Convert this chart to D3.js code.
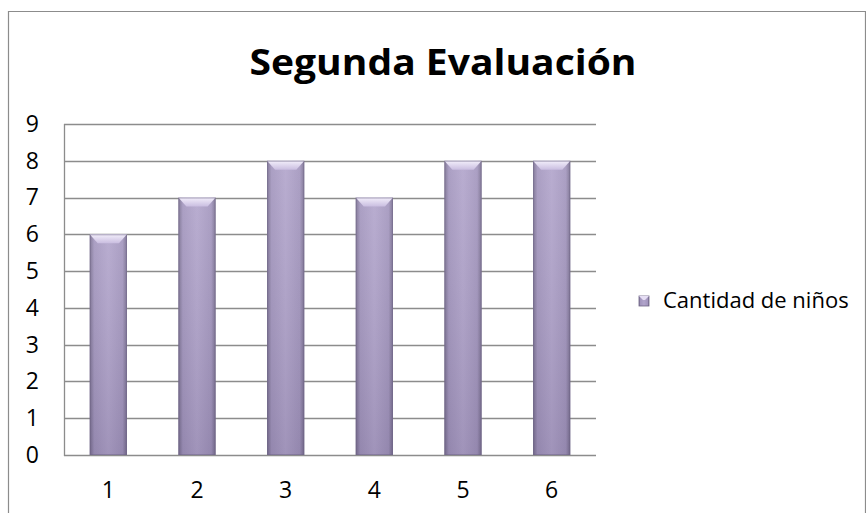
<!DOCTYPE html>
<html>
<head>
<meta charset="utf-8">
<script src="https://cdn.jsdelivr.net/npm/d3@7"></script>
<style>
  body { margin: 0; background: #fff; }
  text { font-family: "Open Sans", sans-serif; }
</style>
</head>
<body>
<div id="viz"></div>
<script>
// data
let categories = ["1", "2", "3", "4", "5", "6"];
let values = [6, 7, 8, 7, 8, 8];
let yTicks = [0, 1, 2, 3, 4, 5, 6, 7, 8, 9];
let seriesName = "Cantidad de niños";
let title = "Segunda Evaluación";

let width = 866, height = 513;
let plot = {left: 64, right: 596, top: 124, bottom: 455};

let svg = d3.select("#viz").append("svg")
    .attr("width", width)
    .attr("height", height);

let defs = svg.append("defs");

// side shading of the bars (darker edges)
let side = defs.append("linearGradient").attr("id", "side")
    .attr("x1", "0").attr("x2", "1").attr("y1", "0").attr("y2", "0");
side.append("stop").attr("offset", "0").attr("stop-color", "#776d8e");
side.append("stop").attr("offset", "0.12").attr("stop-color", "#a295bd");
side.append("stop").attr("offset", "0.5").attr("stop-color", "#b1a4cb");
side.append("stop").attr("offset", "0.88").attr("stop-color", "#a295bd");
side.append("stop").attr("offset", "1").attr("stop-color", "#776d8e");

// top to bottom darkening
let shade = defs.append("linearGradient").attr("id", "shade")
    .attr("x1", "0").attr("x2", "0").attr("y1", "0").attr("y2", "1");
shade.append("stop").attr("offset", "0").attr("stop-color", "#ffffff").attr("stop-opacity", 0.1);
shade.append("stop").attr("offset", "1").attr("stop-color", "#3a3050").attr("stop-opacity", 0.14);

let bevel = defs.append("linearGradient").attr("id", "bevel")
    .attr("x1", "0").attr("x2", "0").attr("y1", "0").attr("y2", "1");
bevel.append("stop").attr("offset", "0").attr("stop-color", "#f3effb");
bevel.append("stop").attr("offset", "1").attr("stop-color", "#c9bde0");

// outer chart border
svg.append("path")
    .attr("d", "M8.5," + height + "V11.5H865.5V" + height)
    .attr("fill", "none")
    .attr("stroke", "#8c8c8c")
    .attr("stroke-width", 1.2);

// title
svg.append("text")
    .attr("x", 443)
    .attr("y", 75)
    .attr("text-anchor", "middle")
    .attr("font-size", 36)
    .attr("font-weight", "bold")
    .attr("textLength", 387)
    .attr("lengthAdjust", "spacingAndGlyphs")
    .attr("fill", "#000")
    .text(title);

let x = d3.scaleBand()
    .domain(categories)
    .range([plot.left, plot.right])
    .paddingInner(0.58)
    .paddingOuter(0.29);

let y = d3.scaleLinear()
    .domain([0, 9])
    .range([plot.bottom, plot.top]);

// gridlines
svg.append("g")
    .selectAll("line")
    .data(yTicks)
    .enter()
    .append("line")
    .attr("x1", plot.left)
    .attr("x2", plot.right)
    .attr("y1", d => Math.round(y(d)) + 0.5)
    .attr("y2", d => Math.round(y(d)) + 0.5)
    .attr("stroke", "#8c8c8c")
    .attr("stroke-width", 1.3);

// left axis line
svg.append("line")
    .attr("x1", plot.left + 0.5).attr("x2", plot.left + 0.5)
    .attr("y1", plot.top).attr("y2", plot.bottom + 1)
    .attr("stroke", "#8c8c8c")
    .attr("stroke-width", 1.3);

// y labels
let yAxis = svg.append("g")
    .attr("transform", "translate(39,0)")
    .call(d3.axisLeft(y).tickValues(yTicks).tickSize(0).tickPadding(0).tickFormat(d3.format("d")));
yAxis.select(".domain").remove();
yAxis.attr("font-size", null).attr("font-family", null);
yAxis.selectAll("text")
    .style("font-size", "23px")
    .attr("fill", "#000");

// x labels
let xAxis = svg.append("g")
    .attr("transform", "translate(0," + (plot.bottom + 27) + ")")
    .call(d3.axisBottom(x).tickSize(0).tickPadding(0));
xAxis.select(".domain").remove();
xAxis.attr("font-size", null).attr("font-family", null);
xAxis.selectAll("text")
    .style("font-size", "23px")
    .attr("fill", "#000");

// bars
let bars = svg.append("g")
    .selectAll("g")
    .data(values)
    .enter()
    .append("g")
    .attr("transform", (d, i) => "translate(" + x(categories[i]) + ",0)");

let bw = x.bandwidth();

bars.append("rect")
    .attr("x", 0)
    .attr("y", d => y(d))
    .attr("width", bw)
    .attr("height", d => y(0) - y(d))
    .attr("fill", "url(#side)");

bars.append("rect")
    .attr("x", 0)
    .attr("y", d => y(d))
    .attr("width", bw)
    .attr("height", d => y(0) - y(d))
    .attr("fill", "url(#shade)");

// top bevel
bars.append("path")
    .attr("d", d => {
        let t = y(d);
        return "M0," + t + "H" + bw + "L" + (bw - 8) + "," + (t + 9) + "H8Z";
    })
    .attr("fill", "url(#bevel)");

// thin dark outline
bars.append("rect")
    .attr("x", 0.5)
    .attr("y", d => y(d) + 0.5)
    .attr("width", bw - 1)
    .attr("height", d => y(0) - y(d) - 1)
    .attr("fill", "none")
    .attr("stroke", "#6e6486")
    .attr("stroke-opacity", 0.5);

// legend
let legend = svg.append("g").attr("transform", "translate(639,296)");
legend.append("rect")
    .attr("width", 10).attr("height", 10)
    .attr("fill", "url(#side)")
    .attr("stroke", "#6e6486")
    .attr("stroke-width", 0.8);
legend.append("path")
    .attr("d", "M0,0H10L6,4H4Z")
    .attr("fill", "#e6def4");
legend.append("text")
    .attr("x", 24)
    .attr("y", 12)
    .style("font-size", "22px")
    .attr("fill", "#000")
    .text(seriesName);
</script>
</body>
</html>
